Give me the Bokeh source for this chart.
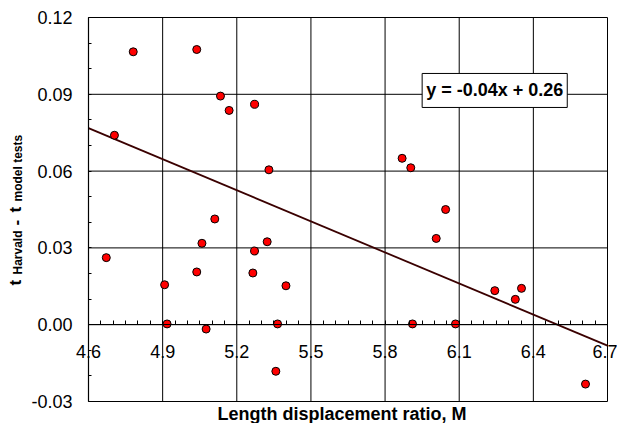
import math
import numpy as np
from bokeh.plotting import figure
from bokeh.models import (FixedTicker, PrintfTickFormatter, Label, Range1d,
                          ColumnDataSource)
from bokeh.embed import file_html
from bokeh.resources import INLINE

# ---- data ----
length_ratio = [4.781, 5.038, 5.134, 5.169, 5.272, 4.705, 5.330, 5.111, 4.672, 5.059,
                5.038, 4.908, 4.918, 5.076, 5.272, 5.323, 5.265, 5.399, 5.365, 5.358,
                5.869, 5.904, 6.045, 6.007, 6.244, 6.352, 6.327, 5.911, 6.085, 6.611]
t_diff = [0.1066, 0.1075, 0.0893, 0.0837, 0.0861, 0.0740, 0.0605, 0.0413, 0.0262, 0.0318,
          0.0206, 0.0156, 0.0003, -0.0017, 0.0288, 0.0324, 0.0202, 0.0152, 0.0003, -0.0182,
          0.0650, 0.0613, 0.0450, 0.0337, 0.0133, 0.0142, 0.0099, 0.0003, 0.0003, -0.0232]

trend_x = [4.6, 6.7]
trend_y = [0.0768, -0.0082]
equation_text = "y = -0.04x + 0.26"

x_ticks = [4.6, 4.9, 5.2, 5.5, 5.8, 6.1, 6.4, 6.7]
y_ticks = [-0.03, 0.0, 0.03, 0.06, 0.09, 0.12]
x_minor = [round(v, 2) for v in np.arange(4.6, 6.7001, 0.05)]
y_minor = [round(v, 2) for v in np.arange(-0.03, 0.12001, 0.01)]

X_MIN, X_MAX = 4.6, 6.7
Y_MIN, Y_MAX = -0.03, 0.12

# ---- layout (pixels) ----
W, H = 617, 423
PX_LEFT, PX_RIGHT, PX_TOP, PX_BOTTOM = 88, 607, 17, 401
px_x = (PX_RIGHT - PX_LEFT) / (X_MAX - X_MIN)
px_y = (PX_BOTTOM - PX_TOP) / (Y_MAX - Y_MIN)
x_range = Range1d(X_MIN - PX_LEFT / px_x, X_MAX + (W - PX_RIGHT) / px_x)
y_range = Range1d(Y_MIN - (H - PX_BOTTOM) / px_y, Y_MAX + PX_TOP / px_y)

FONT = "Liberation Sans"

p = figure(width=W, height=H, output_backend="svg", toolbar_location=None,
           x_range=x_range, y_range=y_range,
           min_border=0, min_border_left=0, min_border_right=0,
           min_border_top=0, min_border_bottom=0,
           background_fill_color="white", border_fill_color="white")
p.outline_line_color = None
p.grid.visible = False

# grid lines + plot border (drawn from the tick lists)
p.segment(x0=x_ticks, y0=[Y_MIN] * len(x_ticks), x1=x_ticks, y1=[Y_MAX] * len(x_ticks),
          line_color="black", line_width=1)
p.segment(x0=[X_MIN] * len(y_ticks), y0=y_ticks, x1=[X_MAX] * len(y_ticks), y1=y_ticks,
          line_color="black", line_width=1)

# x axis crossing at y = 0
xa = p.xaxis[0]
xa.fixed_location = 0
xa.bounds = (X_MIN, X_MAX)
xa.ticker = FixedTicker(ticks=x_ticks, minor_ticks=x_minor)
xa.formatter = PrintfTickFormatter(format="%.1f")
xa.axis_line_color = "black"
xa.axis_line_width = 1.2
xa.major_tick_in = 0
xa.major_tick_out = 0
xa.minor_tick_in = 4
xa.minor_tick_out = 0
xa.minor_tick_line_color = "black"
xa.major_label_standoff = 20
xa.major_label_text_font = FONT
xa.major_label_text_font_size = "18px"
xa.major_label_text_color = "black"

# y axis on the left edge of the data area
ya = p.yaxis[0]
ya.fixed_location = X_MIN
ya.bounds = (Y_MIN, Y_MAX)
ya.ticker = FixedTicker(ticks=y_ticks, minor_ticks=y_minor)
ya.formatter = PrintfTickFormatter(format="%.2f")
ya.axis_line_color = "black"
ya.axis_line_width = 1.2
ya.major_tick_in = 0
ya.major_tick_out = 0
ya.minor_tick_in = 3
ya.minor_tick_out = 0
ya.minor_tick_line_color = "black"
ya.major_label_standoff = 16
ya.major_label_text_font = FONT
ya.major_label_text_font_size = "18px"
ya.major_label_text_color = "black"

# trend line
p.line(trend_x, trend_y, line_color="#3a0000", line_width=1.8)

# points
src = ColumnDataSource(dict(x=length_ratio, y=t_diff))
p.scatter("x", "y", source=src, size=8, fill_color="#ff0000",
          line_color="black", line_width=1)

# equation box
p.add_layout(Label(x=5.95, y=0.0915, text=equation_text, text_align="left",
                   text_baseline="middle", text_font=FONT, text_font_style="bold",
                   text_font_size="18px", text_color="black",
                   background_fill_color="white", border_line_color="black",
                   border_line_width=1, padding=(4, 7)))

# x axis title (anchored to the lower-left corner of the data area)
p.add_layout(Label(x=X_MIN, y=Y_MIN, x_offset=253.5, y_offset=-12,
                   text="Length displacement ratio, M", text_align="center",
                   text_baseline="middle", text_font=FONT, text_font_style="bold",
                   text_font_size="18px", text_color="black"))

# y axis title, built from pieces (with subscripts)
pieces = [
    ("t", -73, 116, "17px"),
    ("Harvald", -71, 127, "12px"),
    ("-", -73, 176, "17px"),
    ("t", -73, 189, "17px"),
    ("model tests", -71, 200, "12px"),
]
for txt, dx, dy, fs in pieces:
    p.add_layout(Label(x=X_MIN, y=Y_MIN, x_offset=dx, y_offset=dy, text=txt,
                       angle=math.pi / 2, text_align="left", text_baseline="alphabetic",
                       text_font=FONT, text_font_style="bold", text_font_size=fs,
                       text_color="black"))

open("out.html", "w").write(file_html(p, INLINE))
